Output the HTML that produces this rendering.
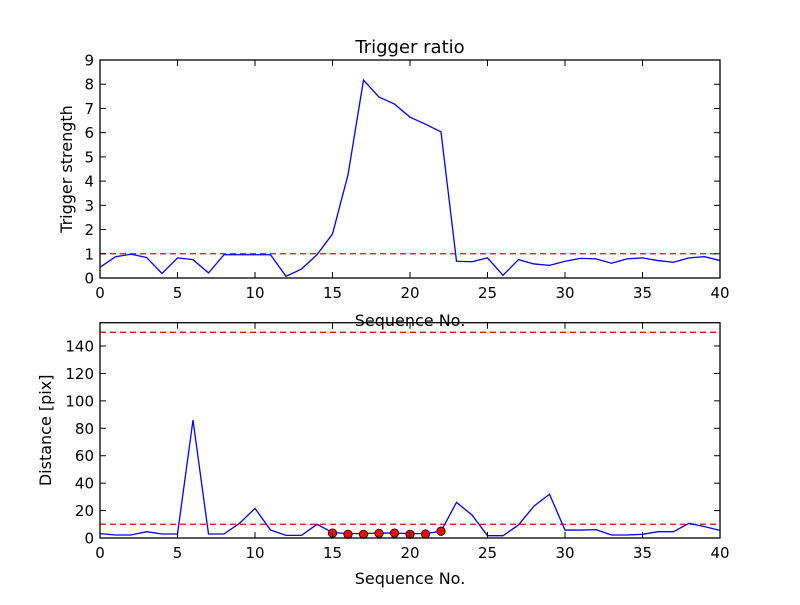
<!DOCTYPE html>
<html><head><meta charset="utf-8"><style>
body{margin:0;background:#fff}
svg text{font-family:"DejaVu Sans","Liberation Sans",sans-serif;fill:#000}
</style></head><body>
<svg id="chart" width="800" height="600" xmlns="http://www.w3.org/2000/svg">
<rect width="800" height="600" fill="#fff"/>
</svg>
<script>
const seqNo = [];
for (let i = 0; i <= 40; i++) seqNo.push(i);
const triggerStrength = [0.44,0.88,0.98,0.85,0.19,0.83,0.76,0.21,0.96,0.96,0.96,0.96,0.07,0.37,0.96,1.82,4.26,8.17,7.47,7.18,6.64,6.35,6.03,0.69,0.67,0.83,0.11,0.76,0.58,0.52,0.69,0.81,0.79,0.61,0.79,0.83,0.72,0.65,0.83,0.88,0.72];
const distance = [3.2,2.2,2.2,4.6,2.9,2.9,86,2.9,2.9,10.7,21.6,5.8,1.9,1.9,10,4.0,3.2,3.2,3.6,3.6,3.2,3.2,4.9,26,16.8,1.7,1.7,9.5,23.3,31.9,5.8,5.8,6.1,2.2,2.2,2.7,4.6,4.6,10.7,8.3,5.6];
const markedSeq = [15,16,17,18,19,20,21,22];
const markedDist = [3.6,2.7,2.7,3.4,3.6,2.7,2.9,4.9];
const triggerThreshold = 1;
const distThresholds = [10,150];
const topYTicks = [0,1,2,3,4,5,6,7,8,9];
const botYTicks = [0,20,40,60,80,100,120,140];
const xTicks = [0,5,10,15,20,25,30,35,40];

const svg = document.getElementById('chart');
const NS = 'http://www.w3.org/2000/svg';
function mk(tag, attrs, parent){const e=document.createElementNS(NS,tag);for(const k in attrs)e.setAttribute(k,attrs[k]);(parent||svg).appendChild(e);return e;}
const X0=100,X1=720;
const xs = v => X0 + (v/40)*(X1-X0);
function panel(name, top, bot, ymax, yTicks, xs, ys, yLabel, yLabelX){
  const y = v => bot - (v/ymax)*(bot-top);
  const g = mk('g',{});
  
  
  return {g, y};
}
function drawAxes(p, top, bot, yTicks, yfn, yLabel, yLabelX, xLabelY){
  const g=p.g;
  xTicks.forEach(t=>{
    const x=xs(t);
    mk('line',{x1:x,x2:x,y1:bot,y2:bot-6,stroke:'#000'},g);
    mk('line',{x1:x,x2:x,y1:top,y2:top+6,stroke:'#000'},g);
    const tx=mk('text',{x:x,y:bot+20,'text-anchor':'middle','font-size':15},g);
    tx.textContent=t;
    
    
  });
  yTicks.forEach(t=>{
    const yy=yfn(t);
    mk('line',{x1:X0,x2:X0+6,y1:yy,y2:yy,stroke:'#000'},g);
    mk('line',{x1:X1,x2:X1-6,y1:yy,y2:yy,stroke:'#000'},g);
    const tx=mk('text',{x:X0-6,y:yy+5.5,'text-anchor':'end','font-size':15},g);
    tx.textContent=t;
    
    
  });
  const yl=mk('text',{x:yLabelX,y:(top+bot)/2,'text-anchor':'middle','font-size':16,transform:`rotate(-90 ${yLabelX} ${(top+bot)/2})`},g);
  yl.textContent=yLabel;
  
  
  const xl=mk('text',{x:410,y:xLabelY,'text-anchor':'middle','font-size':16},g);
  xl.textContent='Sequence No.';
  
  
}
// top panel
const T0=60,T1=278;
const p1=panel('trigger-panel',T0,T1,9);
const y1=p1.y;
let hl=mk('line',{x1:X0,x2:X1,y1:y1(triggerThreshold),y2:y1(triggerThreshold),stroke:'#f00','stroke-width':1.3,'stroke-dasharray':'6,4'},p1.g);


let pl=mk('polyline',{points:triggerStrength.map((v,i)=>xs(seqNo[i])+','+y1(v)).join(' '),fill:'none',stroke:'#00f','stroke-width':1.3},p1.g);


mk('rect',{x:X0,y:T0,width:X1-X0,height:T1-T0,fill:'none',stroke:'#000','stroke-width':1.3},p1.g);
drawAxes(p1,T0,T1,topYTicks,y1,'Trigger strength',72,326);
const title=mk('text',{x:410,y:53,'text-anchor':'middle','font-size':18});
title.textContent='Trigger ratio';


// bottom panel
const B0=322.7,B1=538,BMAX=157;
const p2=panel('distance-panel',B0,B1,BMAX);
const y2=p2.y;
distThresholds.forEach(v=>{
  const l=mk('line',{x1:X0,x2:X1,y1:y2(v),y2:y2(v),stroke:'#f00','stroke-width':1.3,'stroke-dasharray':'6,4'},p2.g);
  
  
});
let pl2=mk('polyline',{points:distance.map((v,i)=>xs(seqNo[i])+','+y2(v)).join(' '),fill:'none',stroke:'#00f','stroke-width':1.3},p2.g);


markedSeq.forEach((s,i)=>{
  const c=mk('circle',{cx:xs(s),cy:y2(markedDist[i]),r:4.2,fill:'#f00',stroke:'#000','stroke-width':0.8},p2.g);
  
  
});
mk('rect',{x:X0,y:B0,width:X1-X0,height:B1-B0,fill:'none',stroke:'#000','stroke-width':1.3},p2.g);
drawAxes(p2,B0,B1,botYTicks,y2,'Distance [pix]',51,584);
</script>
</body></html>
